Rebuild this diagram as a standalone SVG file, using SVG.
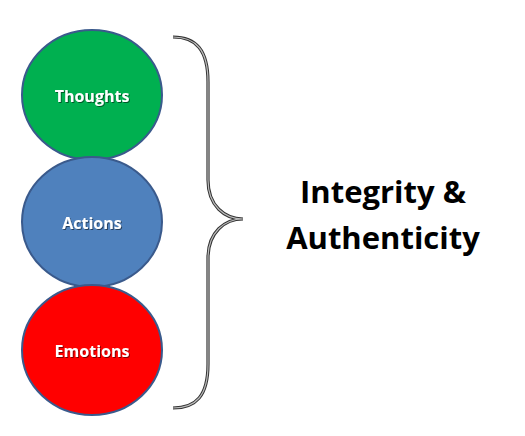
<svg xmlns="http://www.w3.org/2000/svg" width="525" height="436" viewBox="0 0 525 436">
<defs>
<filter id="sh" x="-20%" y="-20%" width="140%" height="140%">
<feDropShadow dx="1" dy="1" stdDeviation="0.6" flood-color="#000" flood-opacity="0.5"/>
</filter>
</defs>
<style>
.c{stroke:#3a5a8c;stroke-width:2}
.l{font-family:"Open Sans","Liberation Sans",sans-serif;font-weight:700;font-size:16px;fill:#fff;text-anchor:middle;filter:url(#sh)}
.t{font-family:"Open Sans","Liberation Sans",sans-serif;font-weight:700;font-size:31px;fill:#000;text-anchor:middle}
</style>
<rect width="525" height="436" fill="#fff"/>
<g id="thoughts">
<ellipse class="c" cx="92" cy="95" rx="70" ry="65" fill="#00b050"/>
<text class="l" x="92" y="102">Thoughts</text>
</g>
<g id="actions">
<ellipse class="c" cx="92" cy="222" rx="70" ry="65" fill="#4f81bd"/>
<text class="l" x="92" y="229">Actions</text>
</g>
<g id="emotions">
<ellipse class="c" cx="92" cy="350" rx="70" ry="65" fill="#ff0000"/>
<text class="l" x="92" y="357">Emotions</text>
</g>
<g id="connectors">
<path d="M173,37 C196,37 208,50 208,82 L208,180 C208,206 225,219 243,219 C225,219 208,232 208,258 L208,364 C208,396 196,408 173,408" fill="none" stroke="#333" stroke-width="3.2"/>
<path d="M173,37 C196,37 208,50 208,82 L208,180 C208,206 225,219 243,219 C225,219 208,232 208,258 L208,364 C208,396 196,408 173,408" fill="none" stroke="#bbb" stroke-width="1.2"/>
</g>
<g id="label">
<text class="t" x="383" y="203">Integrity &amp;</text>
<text class="t" x="383" y="249">Authenticity</text>
</g>
</svg>
